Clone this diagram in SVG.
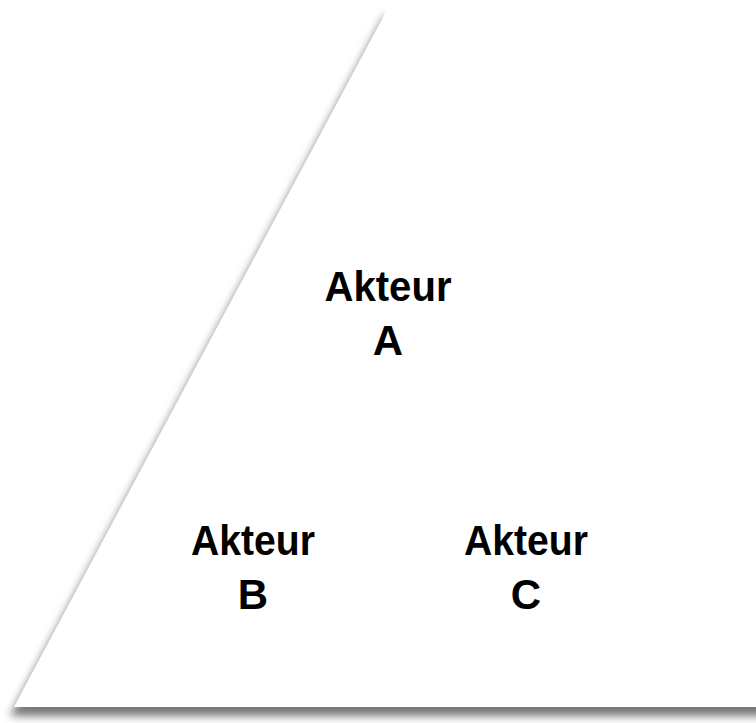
<svg xmlns="http://www.w3.org/2000/svg" width="756" height="723" viewBox="0 0 756 723">
<defs>
<filter id="sh" filterUnits="userSpaceOnUse" x="-100" y="-100" width="1100" height="950">
<feGaussianBlur in="SourceAlpha" stdDeviation="4"/>
<feOffset dx="-4" dy="9" result="b"/>
<feFlood flood-color="#777" flood-opacity="1"/>
<feComposite in2="b" operator="in" result="s"/>
<feMerge><feMergeNode in="s"/><feMergeNode in="SourceGraphic"/></feMerge>
</filter>
<style>
.t{font-family:"Liberation Sans",Arial,sans-serif;font-weight:bold;font-size:42px;fill:#000;text-anchor:middle}
</style>
</defs>
<rect width="756" height="723" fill="#fff"/>
<g id="triangle">
<polygon points="388,8 14,707 950,707 950,8" fill="#fff" filter="url(#sh)"/>
</g>
<g id="nodeA"><text class="t" x="388" y="301" textLength="127" lengthAdjust="spacingAndGlyphs">Akteur</text><text class="t" x="388" y="355">A</text></g>
<g id="nodeB"><text class="t" x="253" y="555" textLength="124" lengthAdjust="spacingAndGlyphs">Akteur</text><text class="t" x="253" y="609">B</text></g>
<g id="nodeC"><text class="t" x="526" y="555" textLength="124" lengthAdjust="spacingAndGlyphs">Akteur</text><text class="t" x="526" y="609">C</text></g>
<g id="connectors"/>
</svg>
